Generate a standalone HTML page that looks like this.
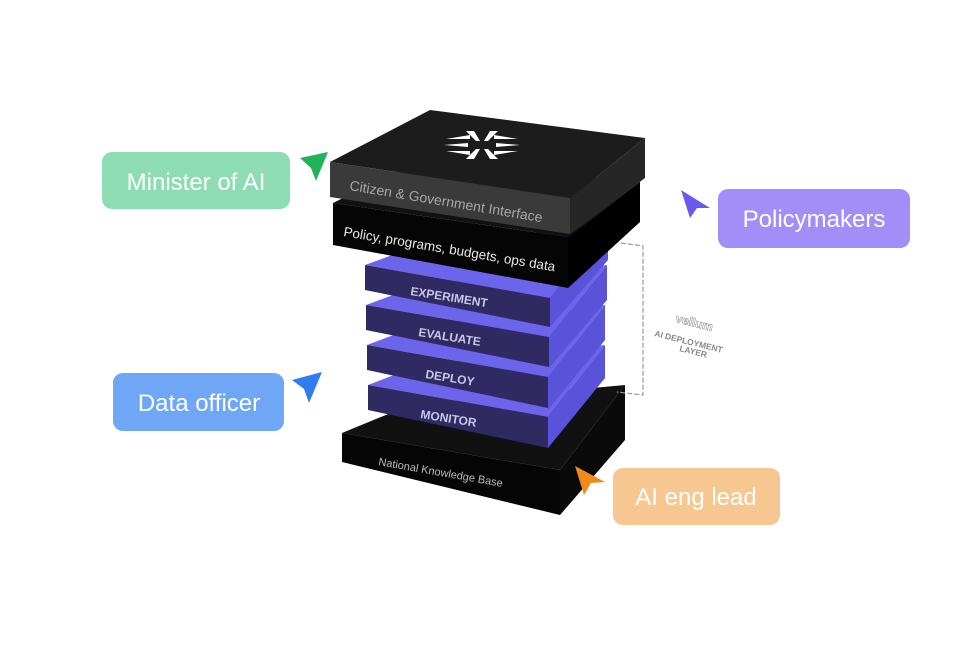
<!DOCTYPE html>
<html><head><meta charset="utf-8"><style>
html,body{margin:0;padding:0;background:#fff;}
svg{display:block;font-family:"Liberation Sans",sans-serif;}
</style></head><body>
<svg width="980" height="662" viewBox="0 0 980 662">
<!-- bottom slab -->
<polygon points="342,433 410,405 625,385 560,470" fill="#111"/>
<polygon points="560,470 625,385 625,440 560,515" fill="#0a0a0a"/>
<polygon points="342,433 560,470 560,515 342,462" fill="#050505"/>
<text x="378" y="465" font-size="11" fill="#bbb" transform="rotate(10 378 465)">National Knowledge Base</text>

<g id="layers">
<polygon points="368,385 420,365 605,345 548,417" fill="#6c64ea"/>
<polygon points="548,417 605,345 605,378 548,448" fill="#5a52d8"/>
<polygon points="368,385 548,417 548,448 368,410" fill="#2f2b62"/>
<text x="420" y="418" font-size="12" font-weight="bold" fill="#c9c6e6" transform="rotate(9 420 418)">MONITOR</text>

<polygon points="367,345 420,325 605,305 548,377" fill="#6c64ea"/>
<polygon points="548,377 605,305 605,340 548,410" fill="#5a52d8"/>
<polygon points="367,345 548,377 548,408 367,370" fill="#2f2b62"/>
<text x="425" y="378" font-size="12" font-weight="bold" fill="#c9c6e6" transform="rotate(9 425 378)">DEPLOY</text>

<polygon points="366,305 420,285 607,265 549,337" fill="#6c64ea"/>
<polygon points="549,337 607,265 607,300 549,368" fill="#5a52d8"/>
<polygon points="366,305 549,337 549,367 366,330" fill="#2f2b62"/>
<text x="418" y="336" font-size="12" font-weight="bold" fill="#c9c6e6" transform="rotate(9 418 336)">EVALUATE</text>

<polygon points="365,265 420,245 608,225 550,298" fill="#6c64ea"/>
<polygon points="550,298 608,225 608,260 550,327" fill="#5a52d8"/>
<polygon points="365,265 550,298 550,327 365,290" fill="#2f2b62"/>
<text x="410" y="295" font-size="12" font-weight="bold" fill="#c9c6e6" transform="rotate(9 410 295)">EXPERIMENT</text>
</g>

<!-- black slab 2 -->
<polygon points="333,203 420,160 640,182 568,237" fill="#111"/>
<polygon points="568,237 640,182 640,222 568,288" fill="#000"/>
<polygon points="333,203 568,237 568,288 333,245" fill="#050505"/>
<text x="343" y="236" font-size="13.5" fill="#e8e8e8" transform="rotate(9.5 343 236)">Policy, programs, budgets, ops data</text>

<!-- top slab -->
<polygon points="330,162 430,110 645,138 570,198" fill="#1c1c1c"/>
<polygon points="570,198 645,138 645,178 570,234" fill="#262626"/>
<polygon points="330,162 570,198 570,234 330,197" fill="#3a3a3a"/>
<text x="349" y="190" font-size="14" fill="#a8a8a8" transform="rotate(9.5 349 190)">Citizen &amp; Government Interface</text>
<g fill="#fff" transform="translate(482,145)">
<polygon points="-36,-6 -12,-10 -12,-6"/><polygon points="-36,6 -12,10 -12,6"/>
<polygon points="36,-6 12,-10 12,-6"/><polygon points="36,6 12,10 12,6"/>
<polygon points="-38,0 -14,-2 -14,2"/><polygon points="38,0 14,-2 14,2"/>
<polygon points="-16,-14 -8,-14 -2,-4 -6,-4"/><polygon points="16,-14 8,-14 2,-4 6,-4"/>
<polygon points="-16,14 -8,14 -2,4 -6,4"/><polygon points="16,14 8,14 2,4 6,4"/>
</g>

<!-- bracket -->
<path d="M621,243 L643,246 L643,395 L617,392" fill="none" stroke="#999" stroke-width="1.2" stroke-dasharray="5,2"/>
<text x="675" y="322" font-size="12" font-weight="bold" fill="#fff" stroke="#999" stroke-width="0.6" transform="rotate(14 675 322)">vellum</text>
<text x="654" y="336" font-size="8.5" font-weight="bold" fill="#888" transform="rotate(14 654 336)">AI DEPLOYMENT</text>
<text x="679" y="351" font-size="8.5" font-weight="bold" fill="#888" transform="rotate(14 679 351)">LAYER</text>

<!-- badges -->
<rect x="102" y="152" width="188" height="57" rx="10" fill="#8edcb3"/>
<text x="196" y="190" font-size="24" fill="#fff" text-anchor="middle">Minister of AI</text>
<polygon points="300,158 328,152 316,181 311,168" fill="#22b35a"/>

<rect x="718" y="189" width="192" height="59" rx="10" fill="#a18ef6"/>
<text x="814" y="227" font-size="24" fill="#fff" text-anchor="middle">Policymakers</text>
<polygon points="681,190 710,208 697,208 690,218" fill="#6a58ef"/>

<rect x="113" y="373" width="171" height="58" rx="10" fill="#6fa7f6"/>
<text x="199" y="411" font-size="24" fill="#fff" text-anchor="middle">Data officer</text>
<polygon points="292,380 322,372 309,403 304,389" fill="#2f7df0"/>

<rect x="613" y="468" width="167" height="57" rx="10" fill="#f6c790"/>
<text x="696" y="505" font-size="24" fill="#fff" text-anchor="middle">AI eng lead</text>
<polygon points="575,466 605,482 591,483 584,495" fill="#f08a1e"/>
</svg>
</body></html>
